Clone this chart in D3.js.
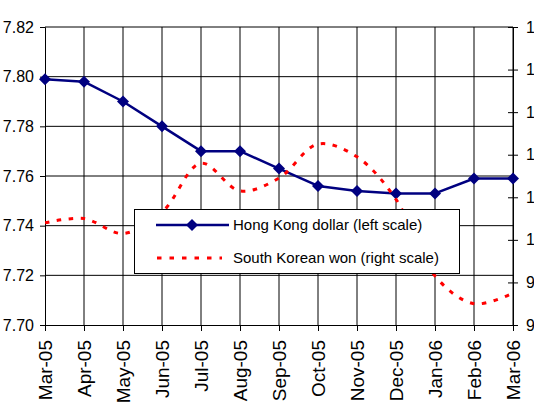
<!DOCTYPE html>
<html>
<head>
<meta charset="utf-8">
<script src="https://cdn.jsdelivr.net/npm/d3@7"></script>
<style>
  html, body { margin: 0; padding: 0; background: #fff; }
  svg { display: block; font-family: "Liberation Sans", Arial, sans-serif; }
</style>
</head>
<body>
<svg id="chart" width="534" height="402"></svg>
<script>
const months = ["Mar-05","Apr-05","May-05","Jun-05","Jul-05","Aug-05","Sep-05","Oct-05","Nov-05","Dec-05","Jan-06","Feb-06","Mar-06"];
const hkd = [7.799, 7.798, 7.790, 7.780, 7.770, 7.770, 7.763, 7.756, 7.754, 7.753, 7.753, 7.759, 7.759];
const krw = [1008, 1010, 1003, 1013, 1036, 1023, 1029, 1045, 1039, 1019, 983, 970, 975];
const leftTicks = [7.70, 7.72, 7.74, 7.76, 7.78, 7.80, 7.82];
const rightTicks = [960, 980, 1000, 1020, 1040, 1060, 1080, 1100];
const seriesNames = ["Hong Kong dollar (left scale)", "South Korean won (right scale)"];

const svg = d3.select("#chart");
const L = 45, R = 513, T = 27, B = 325;

const x = d3.scalePoint().domain(months).range([L, R]);
const yL = d3.scaleLinear().domain([7.70, 7.82]).range([B, T]);
const yR = d3.scaleLinear().domain([960, 1100]).range([B, T]);

// gridlines
const grid = svg.append("g").attr("stroke", "#000").attr("stroke-width", 1);
grid.selectAll("line.h").data(leftTicks.slice(1)).join("line")
  .attr("x1", L).attr("x2", R).attr("y1", d => yL(d)).attr("y2", d => yL(d));
grid.selectAll("line.v").data(months.slice(1)).join("line")
  .attr("x1", d => x(d)).attr("x2", d => x(d)).attr("y1", T).attr("y2", B);

// left axis
const axL = svg.append("g").attr("transform", `translate(${L},0)`)
  .call(d3.axisLeft(yL).tickValues(leftTicks).tickFormat(d3.format(".2f")).tickSize(5).tickPadding(6));
axL.selectAll("text").attr("font-size", 16).attr("fill", "#000").attr("font-family", "Liberation Sans, Arial, sans-serif");
axL.selectAll("line, path").attr("stroke", "#000");

// right axis
const axR = svg.append("g").attr("transform", `translate(${R},0)`)
  .call(d3.axisRight(yR).tickValues(rightTicks).tickFormat(d3.format("d")).tickSize(5).tickPadding(8));
axR.select("path").attr("stroke", "#000");
axR.selectAll(".tick line").attr("x1", -5).attr("x2", 5).attr("stroke", "#000");
axR.selectAll("text").attr("font-size", 16).attr("fill", "#000").attr("font-family", "Liberation Sans, Arial, sans-serif");

// bottom axis
const axB = svg.append("g").attr("transform", `translate(0,${B})`)
  .call(d3.axisBottom(x).tickSize(6).tickSizeOuter(0));
axB.select("path").attr("stroke", "#000");
axB.selectAll("line").attr("stroke", "#000");
axB.selectAll("text")
  .attr("font-size", 19).attr("fill", "#000").attr("font-family", "Liberation Sans, Arial, sans-serif")
  .attr("text-anchor", "end")
  .attr("transform", "translate(0,15) rotate(-90)")
  .attr("x", 0).attr("y", 0).attr("dy", "0.35em");

const clip = svg.append("defs").append("clipPath").attr("id", "plot")
  .append("rect").attr("x", L).attr("y", T - 10).attr("width", R - L).attr("height", B - T + 10);

// HKD line
const lineL = d3.line().x((d, i) => x(months[i])).y(d => yL(d));
svg.append("path").datum(hkd).attr("d", lineL)
  .attr("fill", "none").attr("stroke", "#000080").attr("stroke-width", 2.5).attr("stroke-linejoin", "round");
const diamond = s => `M0,${-s}L${s},0L0,${s}L${-s},0Z`;
svg.append("g").selectAll("path").data(hkd).join("path")
  .attr("transform", (d, i) => `translate(${x(months[i])},${yL(d)})`)
  .attr("d", diamond(6)).attr("fill", "#000080");

// KRW line (smoothed, dashed)
const lineR = d3.line().x((d, i) => x(months[i])).y(d => yR(d)).curve(d3.curveCatmullRom.alpha(0.5));
svg.append("path").datum(krw).attr("d", lineR).attr("clip-path", "url(#plot)")
  .attr("fill", "none").attr("stroke", "#ff0000").attr("stroke-width", 3).attr("stroke-dasharray", "4.5,7.5");

// legend
const lg = svg.append("g");
lg.append("rect").attr("x", 134.5).attr("y", 209.5).attr("width", 325).attr("height", 64)
  .attr("fill", "#fff").attr("stroke", "#000").attr("stroke-width", 1);
lg.append("line").attr("x1", 156).attr("x2", 229).attr("y1", 225).attr("y2", 225)
  .attr("stroke", "#000080").attr("stroke-width", 2.5);
lg.append("path").attr("transform", "translate(192,225)").attr("d", diamond(6)).attr("fill", "#000080");
lg.append("line").attr("x1", 157).attr("x2", 222).attr("y1", 258).attr("y2", 258)
  .attr("stroke", "#ff0000").attr("stroke-width", 3).attr("stroke-dasharray", "4.5,8");
lg.selectAll("text").data(seriesNames).join("text")
  .attr("x", 233).attr("y", (d, i) => 230 + i * 33)
  .attr("font-size", 15).attr("fill", "#000").text(d => d);
</script>
</body>
</html>
